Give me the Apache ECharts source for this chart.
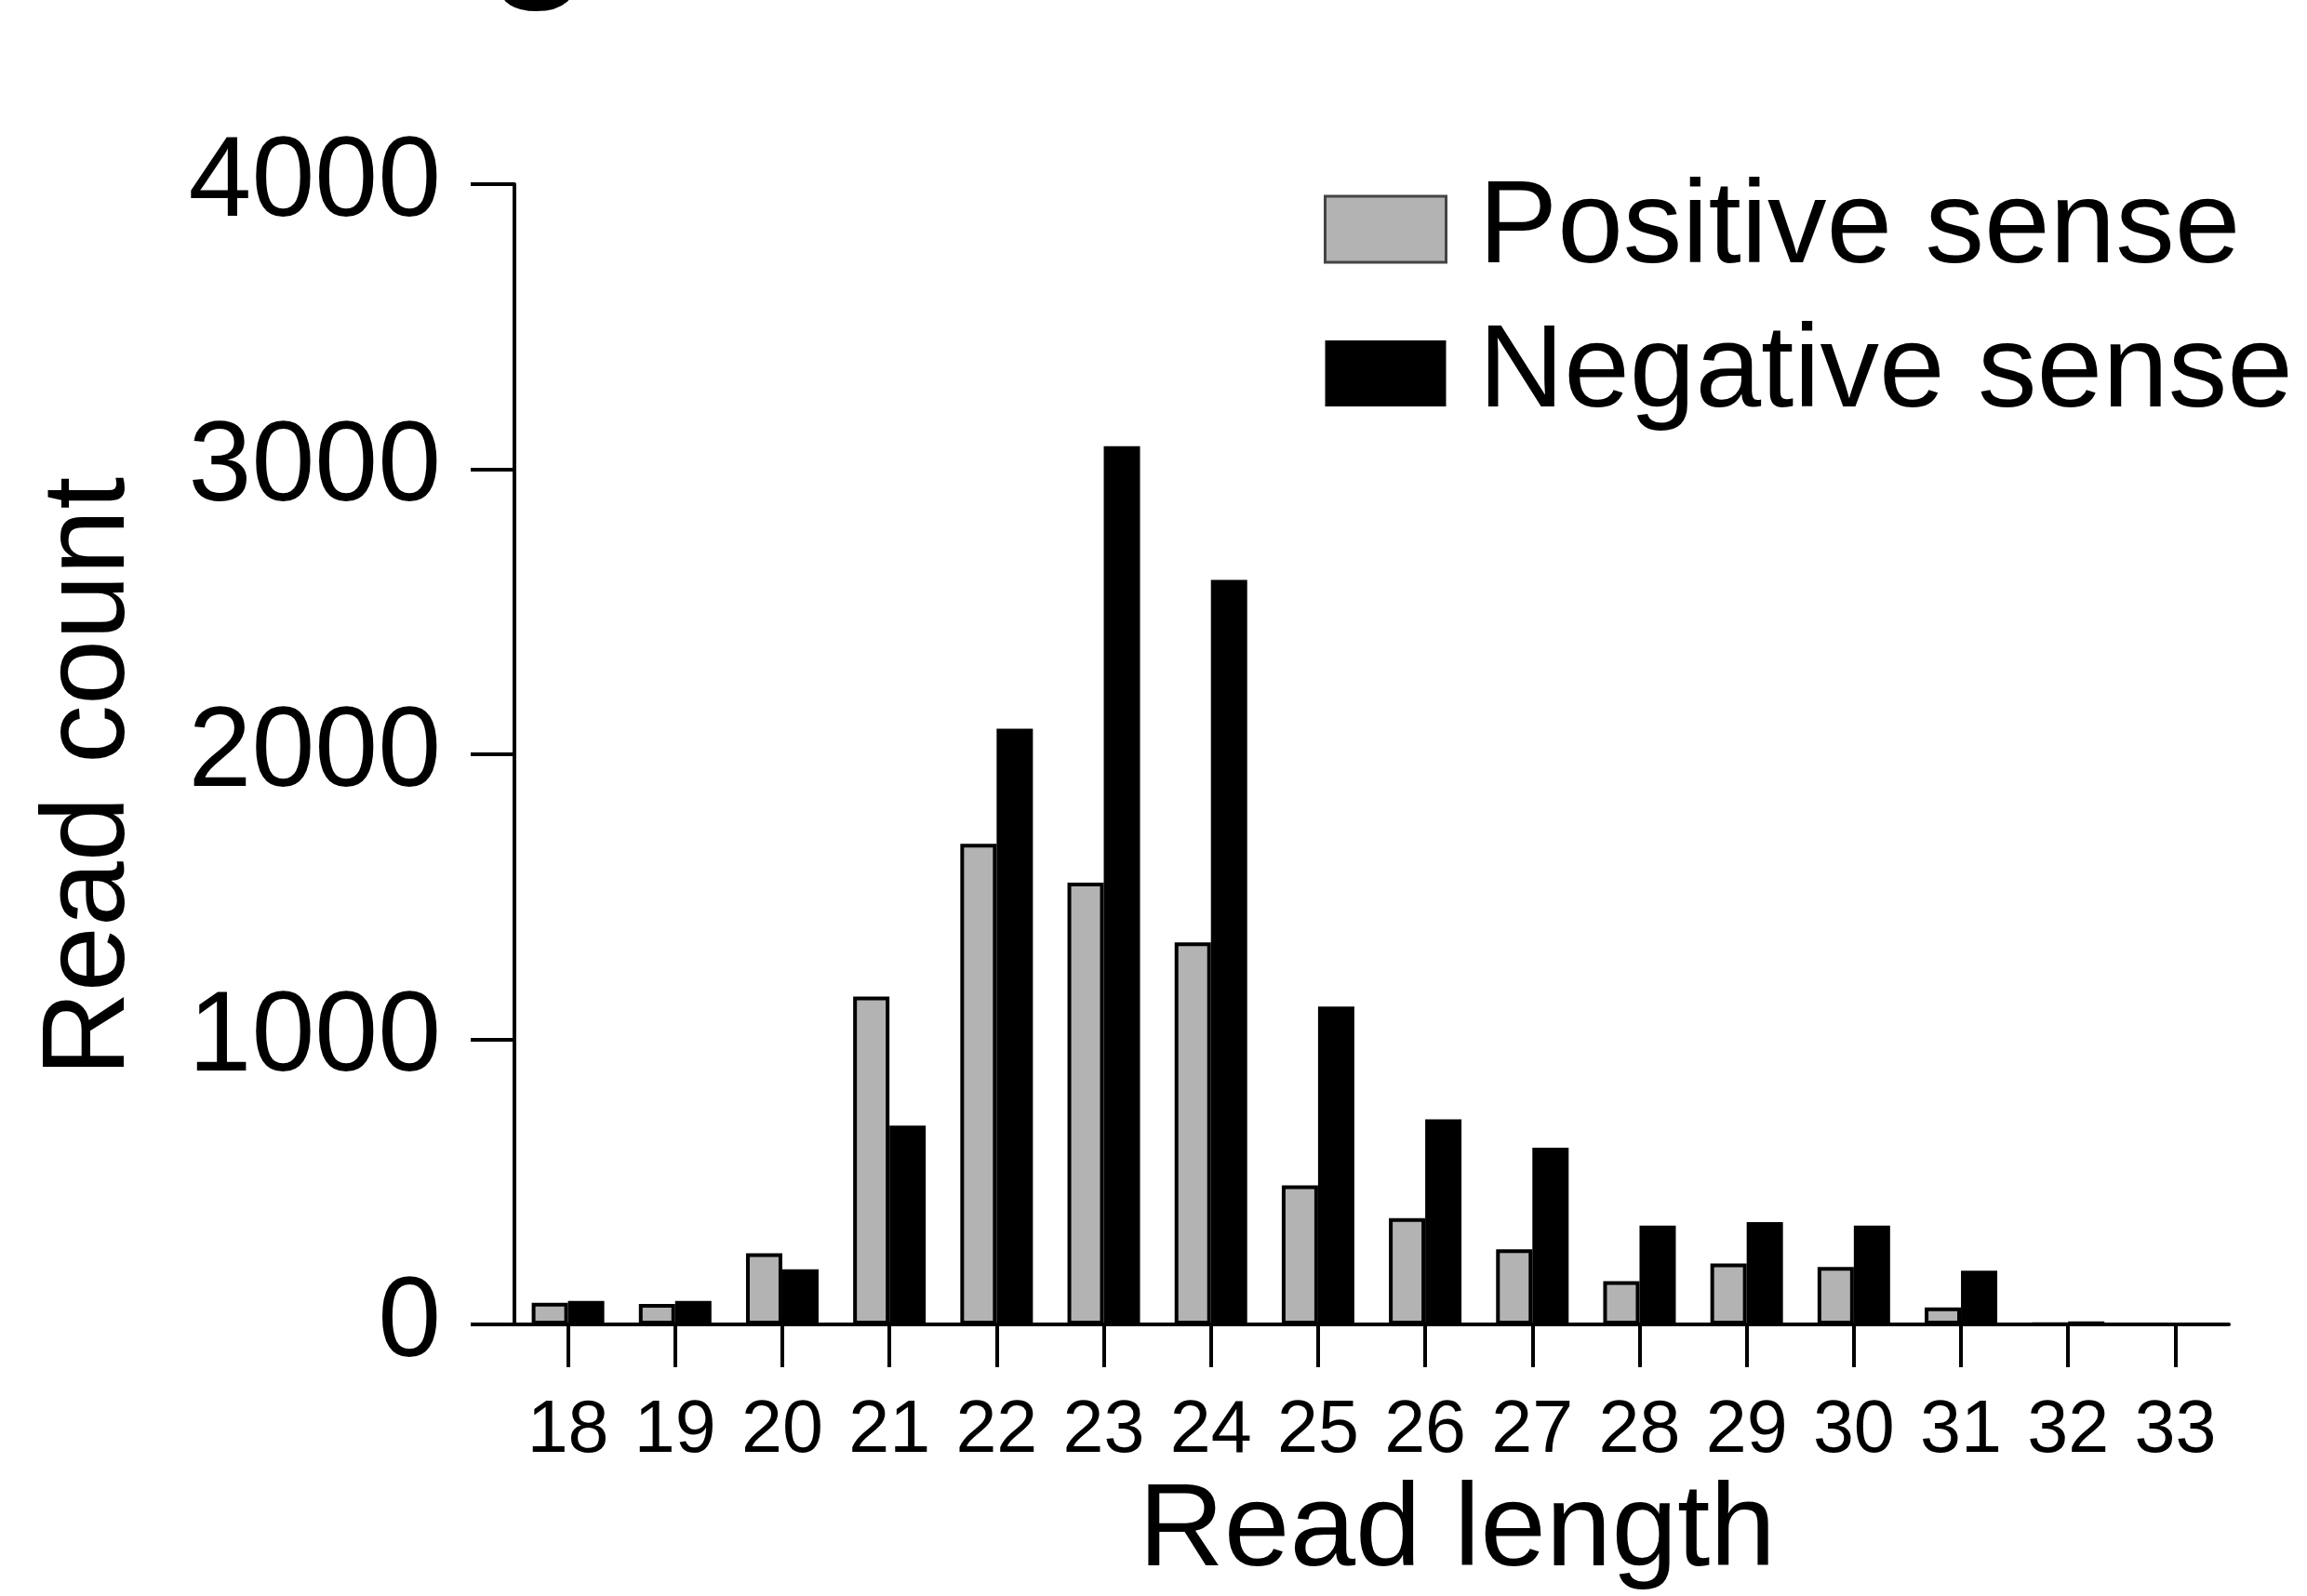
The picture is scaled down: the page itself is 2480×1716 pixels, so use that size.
<!DOCTYPE html>
<html>
<head>
<meta charset="utf-8">
<script src="https://cdn.jsdelivr.net/npm/echarts@6/dist/echarts.min.js"></script>
<style>
    html, body { margin: 0; padding: 0; background: #fff; }
    #chart { width: 2480px; height: 1716px; }
</style>
</head>
<body>
<div id="chart"></div>
<script>
// read lengths (nt)
const readLengths = ['18','19','20','21','22','23','24','25','26','27','28','29','30','31','32','33']
// read counts per length
const positiveSense = [76, 72, 250, 1150, 1686, 1550, 1340, 488, 373, 264, 152, 214, 202, 60, 2, 0]
const negativeSense = [83, 83, 194, 698, 2090, 3081, 2612, 1115, 720, 620, 347, 359, 347, 189, 11, 0]
const yTicks = { min: 0, max: 4000, interval: 1000 }

const font = '"Liberation Sans", Arial, Helvetica, sans-serif'

const chart = echarts.init(document.getElementById('chart'), null, { renderer: 'canvas' })

const option = {
    backgroundColor: '#ffffff',
    animation: false,
    textStyle: { fontFamily: font, color: '#000' },
    grid: {
        left: 553,
        right: 84,
        top: 198,
        bottom: 291
    },
    legend: {
        orient: 'vertical',
        left: 1418,
        top: 178,
        itemWidth: 130,
        itemHeight: 71,
        itemGap: 28,
        icon: 'rect',
        textStyle: {
            fontFamily: font,
            fontSize: 127,
            color: '#000',
            padding: [0, 0, 0, 30]
        },
        data: [
            { name: 'Positive sense', itemStyle: { color: '#b3b3b3', borderColor: '#444', borderWidth: 3 } },
            { name: 'Negative sense', itemStyle: { color: '#000', borderWidth: 0 } }
        ]
    },
    xAxis: {
        type: 'category',
        data: readLengths,
        name: 'Read length',
        nameLocation: 'middle',
        nameGap: 156,
        nameTextStyle: {
            fontFamily: font,
            fontSize: 127,
            color: '#000',
            padding: [0, 0, 0, 184]
        },
        axisLine: { show: true, lineStyle: { color: '#000', width: 4 } },
        axisTick: { show: true, interval: 0, alignWithLabel: true, length: 46, lineStyle: { color: '#000', width: 4 } },
        axisLabel: { interval: 0, fontFamily: font, fontSize: 79, color: '#000', margin: 76 },
        splitLine: { show: false }
    },
    yAxis: {
        type: 'value',
        min: yTicks.min,
        max: yTicks.max,
        interval: yTicks.interval,
        name: 'Read count',
        nameLocation: 'middle',
        nameGap: 392,
        nameTextStyle: {
            fontFamily: font,
            fontSize: 126,
            color: '#000',
            padding: [0, 48, 0, 0]
        },
        axisLine: { show: true, lineStyle: { color: '#000', width: 4 } },
        axisTick: { show: true, length: 47, lineStyle: { color: '#000', width: 4 } },
        axisLabel: {
            fontFamily: font,
            fontSize: 122,
            color: '#000',
            margin: 79,
            formatter: (v) => String(v)
        },
        splitLine: { show: false }
    },
    graphic: [
        {
            // cut-off panel letter at the top edge
            type: 'text',
            left: 524,
            top: -166,
            style: { text: 'g', font: 'bold 180px ' + font, fill: '#000' }
        }
    ],
    series: [
        {
            name: 'Positive sense',
            type: 'bar',
            data: positiveSense,
            barWidth: 39,
            barGap: '0%',
            itemStyle: { color: '#b3b3b3', borderColor: '#000', borderWidth: 4 }
        },
        {
            name: 'Negative sense',
            type: 'bar',
            data: negativeSense,
            barWidth: 39,
            barGap: '0%',
            itemStyle: { color: '#000' }
        }
    ]
}

chart.setOption(option)
</script>
</body>
</html>
